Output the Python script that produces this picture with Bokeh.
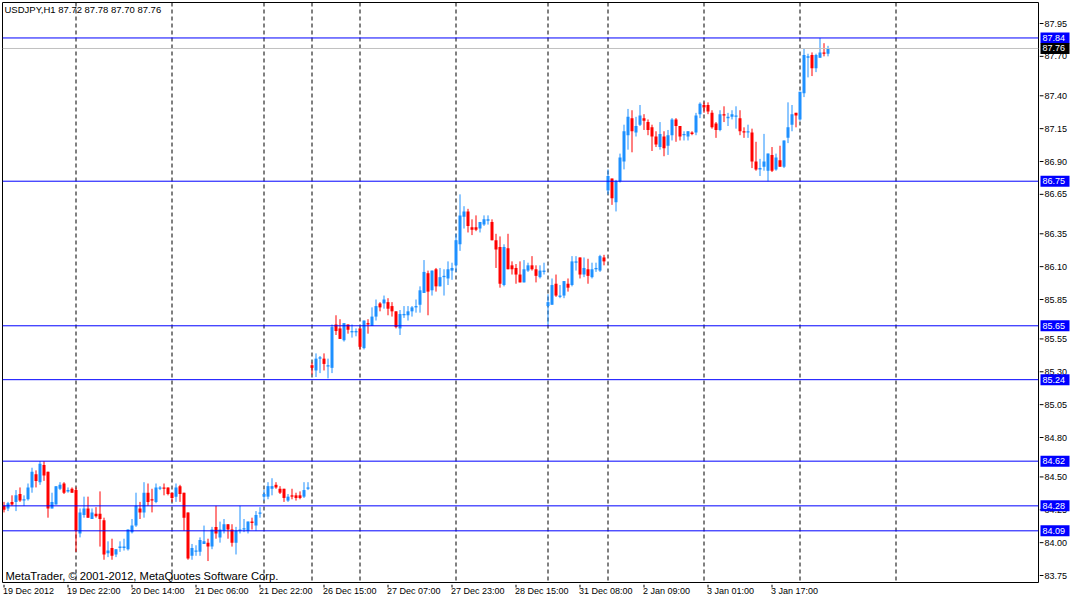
from bokeh.plotting import figure
from bokeh.layouts import row, column
from bokeh.models import Range1d, Span, Label, ColumnDataSource
from bokeh.core.properties import value
from bokeh.embed import file_html
from bokeh.resources import INLINE

# ---- data (USDJPY H1) ----
opens = [84.28, 84.26, 84.31, 84.31, 84.37, 84.32, 84.33, 84.42, 84.52, 84.46,
         84.59, 84.54, 84.26, 84.29, 84.41, 84.45, 84.39, 84.41, 84.40, 84.07,
         84.21, 84.26, 84.18, 84.22, 84.22, 84.17, 83.92, 83.96, 83.91, 83.96,
         83.96, 83.95, 84.08, 84.13, 84.26, 84.23, 84.38, 84.33, 84.31, 84.41,
         84.42, 84.42, 84.38, 84.35, 84.43, 84.38, 84.23, 83.90, 83.93, 83.93,
         83.99, 84.00, 83.97, 84.12, 84.04, 84.09, 84.14, 84.10, 84.00, 84.09,
         84.10, 84.09, 84.16, 84.13, 84.22, 84.35, 84.35, 84.41, 84.44, 84.41,
         84.41, 84.32, 84.36, 84.36, 84.36, 84.35, 84.41, 85.35, 85.31, 85.40,
         85.40, 85.34, 85.33, 85.66, 85.63, 85.54, 85.66, 85.60, 85.60, 85.63,
         85.48, 85.67, 85.65, 85.72, 85.82, 85.82, 85.83, 85.80, 85.76, 85.63,
         85.73, 85.73, 85.76, 85.79, 85.81, 85.90, 86.05, 85.92, 86.08, 85.95,
         86.02, 86.01, 86.07, 86.11, 86.27, 86.48, 86.52, 86.40, 86.40, 86.39,
         86.42, 86.45, 86.44, 86.30, 86.25, 85.96, 86.24, 86.11, 86.09, 86.04,
         85.98, 86.07, 86.11, 86.08, 86.02, 86.06, 85.80, 85.81, 85.97, 85.87,
         85.88, 85.97, 85.96, 86.13, 86.17, 86.04, 86.08, 86.02, 86.08, 86.07,
         86.17, 86.68, 86.77, 86.59, 86.75, 86.90, 87.10, 87.23, 87.12, 87.18,
         87.23, 87.20, 87.16, 87.09, 87.01, 87.09, 87.02, 87.10, 87.22, 87.17,
         87.10, 87.09, 87.12, 87.12, 87.26, 87.33, 87.33, 87.27, 87.19, 87.14,
         87.26, 87.23, 87.24, 87.24, 87.23, 87.13, 87.12, 87.12, 86.90, 86.84,
         86.86, 86.83, 86.95, 86.84, 86.91, 86.86, 87.08, 87.18, 87.27, 87.22,
         87.42, 87.69, 87.71, 87.61, 87.69, 87.73, 87.72]
highs = [84.31, 84.31, 84.36, 84.40, 84.42, 84.36, 84.45, 84.57, 84.55, 84.62,
         84.62, 84.54, 84.38, 84.43, 84.46, 84.46, 84.42, 84.42, 84.42, 84.26,
         84.35, 84.35, 84.26, 84.27, 84.39, 84.19, 84.01, 84.03, 83.95, 84.01,
         84.03, 84.10, 84.18, 84.38, 84.31, 84.46, 84.45, 84.41, 84.45, 84.43,
         84.45, 84.42, 84.38, 84.45, 84.44, 84.38, 84.23, 83.99, 83.98, 84.04,
         84.13, 84.03, 84.12, 84.28, 84.16, 84.18, 84.14, 84.14, 84.12, 84.28,
         84.18, 84.16, 84.19, 84.24, 84.27, 84.40, 84.46, 84.49, 84.46, 84.43,
         84.41, 84.37, 84.41, 84.38, 84.39, 84.46, 84.46, 85.37, 85.44, 85.42,
         85.44, 85.40, 85.66, 85.73, 85.70, 85.67, 85.66, 85.66, 85.63, 85.63,
         85.69, 85.70, 85.79, 85.85, 85.83, 85.88, 85.86, 85.83, 85.76, 85.77,
         85.80, 85.80, 85.80, 85.85, 85.95, 86.15, 86.07, 86.07, 86.09, 86.09,
         86.08, 86.14, 86.13, 86.35, 86.65, 86.56, 86.54, 86.46, 86.49, 86.44,
         86.49, 86.49, 86.46, 86.35, 86.33, 86.27, 86.35, 86.14, 86.12, 86.14,
         86.15, 86.13, 86.18, 86.11, 86.11, 86.13, 85.89, 86.01, 86.04, 85.96,
         85.99, 86.01, 86.18, 86.18, 86.17, 86.17, 86.16, 86.13, 86.13, 86.19,
         86.19, 86.84, 86.77, 86.76, 86.96, 87.18, 87.30, 87.29, 87.24, 87.33,
         87.26, 87.22, 87.18, 87.13, 87.20, 87.13, 87.14, 87.23, 87.23, 87.17,
         87.13, 87.13, 87.13, 87.27, 87.35, 87.35, 87.35, 87.29, 87.20, 87.29,
         87.32, 87.27, 87.29, 87.32, 87.29, 87.16, 87.18, 87.15, 87.05, 86.92,
         87.11, 86.96, 87.01, 86.96, 87.02, 87.06, 87.35, 87.33, 87.27, 87.43,
         87.76, 87.72, 87.73, 87.72, 87.84, 87.80, 87.78]
lows = [84.23, 84.24, 84.28, 84.24, 84.31, 84.28, 84.32, 84.38, 84.42, 84.44,
        84.47, 84.19, 84.26, 84.29, 84.40, 84.37, 84.38, 84.38, 83.93, 84.04,
        84.19, 84.19, 84.18, 84.19, 83.97, 83.87, 83.89, 83.87, 83.89, 83.93,
        83.94, 83.94, 84.07, 84.12, 84.18, 84.19, 84.28, 84.23, 84.30, 84.40,
        84.36, 84.36, 84.31, 84.31, 84.31, 84.09, 83.87, 83.87, 83.90, 83.90,
        83.99, 83.86, 83.95, 84.03, 84.00, 84.07, 84.03, 83.97, 83.91, 84.07,
        84.08, 84.07, 84.10, 84.09, 84.19, 84.32, 84.33, 84.36, 84.41, 84.37,
        84.31, 84.31, 84.33, 84.32, 84.33, 84.34, 84.40, 85.28, 85.26, 85.29,
        85.31, 85.25, 85.29, 85.58, 85.55, 85.53, 85.59, 85.56, 85.57, 85.47,
        85.47, 85.59, 85.65, 85.69, 85.76, 85.78, 85.73, 85.72, 85.63, 85.58,
        85.71, 85.69, 85.72, 85.75, 85.75, 85.90, 85.73, 85.88, 85.91, 85.95,
        85.88, 85.96, 86.00, 86.06, 86.22, 86.39, 86.36, 86.34, 86.37, 86.36,
        86.41, 86.42, 86.30, 86.09, 85.94, 85.95, 86.08, 86.04, 85.97, 85.98,
        85.98, 86.06, 86.07, 85.98, 86.01, 86.04, 85.66, 85.81, 85.87, 85.86,
        85.86, 85.91, 85.95, 86.07, 86.01, 86.02, 85.97, 86.01, 86.06, 86.06,
        86.11, 86.65, 86.57, 86.52, 86.74, 86.84, 86.99, 86.97, 87.09, 87.17,
        87.14, 87.10, 86.98, 87.01, 86.99, 86.94, 86.95, 87.06, 87.05, 87.06,
        87.06, 87.06, 87.10, 87.10, 87.23, 87.27, 87.26, 87.15, 87.08, 87.13,
        87.20, 87.17, 87.22, 87.15, 87.10, 87.08, 87.08, 86.85, 86.83, 86.79,
        86.83, 86.75, 86.82, 86.83, 86.86, 86.85, 87.04, 87.13, 87.16, 87.21,
        87.39, 87.54, 87.55, 87.58, 87.69, 87.70, 87.70]
closes = [84.25, 84.30, 84.29, 84.36, 84.32, 84.33, 84.42, 84.54, 84.47, 84.60,
          84.51, 84.26, 84.31, 84.43, 84.44, 84.38, 84.40, 84.38, 84.09, 84.23,
          84.26, 84.19, 84.23, 84.20, 84.18, 83.91, 83.94, 83.90, 83.95, 83.97,
          83.97, 84.10, 84.13, 84.28, 84.23, 84.38, 84.31, 84.32, 84.42, 84.42,
          84.41, 84.37, 84.34, 84.42, 84.37, 84.19, 83.88, 83.96, 83.94, 84.02,
          84.01, 83.97, 84.10, 84.07, 84.10, 84.14, 84.10, 84.00, 84.09, 84.10,
          84.11, 84.16, 84.15, 84.21, 84.23, 84.37, 84.43, 84.43, 84.42, 84.38,
          84.34, 84.35, 84.35, 84.34, 84.34, 84.40, 84.42, 85.33, 85.40, 85.41,
          85.36, 85.35, 85.64, 85.61, 85.55, 85.67, 85.62, 85.61, 85.61, 85.49,
          85.69, 85.66, 85.72, 85.80, 85.79, 85.85, 85.78, 85.76, 85.64, 85.74,
          85.74, 85.76, 85.79, 85.80, 85.92, 86.06, 85.91, 86.07, 85.95, 86.02,
          86.03, 86.08, 86.09, 86.30, 86.49, 86.52, 86.41, 86.38, 86.38, 86.44,
          86.46, 86.46, 86.30, 86.23, 85.97, 86.25, 86.08, 86.08, 86.04, 85.98,
          86.08, 86.11, 86.08, 86.03, 86.07, 86.07, 85.83, 85.96, 85.88, 85.88,
          85.99, 85.94, 86.14, 86.14, 86.04, 86.09, 86.03, 86.08, 86.09, 86.18,
          86.14, 86.79, 86.62, 86.75, 86.93, 87.13, 87.24, 87.13, 87.17, 87.25,
          87.21, 87.14, 87.09, 87.03, 87.11, 87.00, 87.10, 87.22, 87.17, 87.09,
          87.11, 87.13, 87.11, 87.25, 87.34, 87.31, 87.28, 87.16, 87.14, 87.26,
          87.25, 87.24, 87.26, 87.25, 87.13, 87.12, 87.13, 86.90, 86.84, 86.85,
          86.90, 86.96, 86.83, 86.93, 86.86, 87.06, 87.16, 87.26, 87.25, 87.43,
          87.71, 87.70, 87.61, 87.71, 87.73, 87.72, 87.76]

symbol = "USDJPY,H1"
time_label_bars = [0, 16, 32, 48, 64, 80, 96, 112, 128, 144, 160, 176, 192]
time_labels = ["19 Dec 2012", "19 Dec 22:00", "20 Dec 14:00", "21 Dec 06:00",
               "21 Dec 22:00", "26 Dec 15:00", "27 Dec 07:00", "27 Dec 23:00",
               "28 Dec 15:00", "31 Dec 08:00", "2 Jan 09:00", "3 Jan 01:00",
               "3 Jan 17:00"]
separator_bars = [18, 42, 65, 77, 89, 113, 136, 151, 175, 199, 223]
level_prices = [87.84, 86.75, 85.65, 85.24, 84.62, 84.28, 84.09]
price_ticks = [87.95, 87.70, 87.40, 87.15, 86.90, 86.65, 86.35, 86.10, 85.85,
               85.55, 85.30, 85.05, 84.80, 84.50, 84.25, 84.00, 83.75]
copyright_text = "MetaTrader, \u00a9 2001-2012, MetaQuotes Software Corp."

# ---- styling / layout ----
BULL = "#1E90FF"
BEAR = "#FF0000"
LEVEL = "#0000FF"
BID = "#C0C0C0"
FONT = "Liberation Sans"

BAR_PX = 4.0          # pixels per hourly bar
PRICE_PX = 131.43     # pixels per 1.00 JPY
X0 = (2 - 3.5) / BAR_PX
X1 = (1038 - 3.5) / BAR_PX
Y1 = 87.95 + 21 / PRICE_PX
Y0 = 87.95 - 559 / PRICE_PX

n = len(opens)
xs = list(range(n))
tops, bottoms, colors = [], [], []
for o, c in zip(opens, closes):
    t, b = max(o, c), min(o, c)
    if t - b < 0.008:
        m = (t + b) / 2
        t, b = m + 0.004, m - 0.004
    tops.append(t)
    bottoms.append(b)
    colors.append(BULL if c >= o else BEAR)

src = ColumnDataSource(dict(x=xs, high=highs, low=lows, top=tops,
                            bottom=bottoms, color=colors))


def bare(fig):
    fig.background_fill_color = "white"
    fig.border_fill_color = "white"
    fig.grid.visible = False
    return fig


# main chart
p = figure(width=1039, height=584, x_range=Range1d(X0, X1),
           y_range=Range1d(Y0, Y1), output_backend="svg",
           toolbar_location=None, x_axis_location=None, y_axis_location=None,
           min_border_left=2, min_border_right=1, min_border_top=2,
           min_border_bottom=2, title=None)
bare(p)
p.outline_line_color = "black"
p.outline_line_width = 1

for b in separator_bars:
    p.add_layout(Span(location=b, dimension="height", line_color="black",
                      line_width=1, line_dash="4 3", level="underlay"))

p.segment(x0="x", y0="low", x1="x", y1="high", line_color="color",
          line_width=1, source=src)
p.vbar(x="x", top="top", bottom="bottom", width=0.75, fill_color="color",
       line_color=None, source=src)

for lv in level_prices:
    p.add_layout(Span(location=lv, dimension="width", line_color=LEVEL,
                      line_width=1))
p.add_layout(Span(location=closes[-1], dimension="width", line_color=BID,
                  line_width=1))

title = f"{symbol}  {opens[-1]:.2f} {highs[-1]:.2f} {lows[-1]:.2f} {closes[-1]:.2f}"
p.add_layout(Label(x=X0, y=Y1, x_offset=2, y_offset=-1, text=title,
                   text_align="left", text_baseline="top", text_font=FONT,
                   text_font_size="9.5px", text_color="black"))
p.add_layout(Label(x=X0, y=Y0, x_offset=3, y_offset=7, text=copyright_text,
                   text_align="left", text_baseline="alphabetic",
                   text_font=FONT, text_font_size="11.2px",
                   text_color="black"))

# right price scale (pixel x units)
r = figure(width=36, height=584, x_range=Range1d(1039, 1075),
           y_range=p.y_range, output_backend="svg", toolbar_location=None,
           x_axis_location=None, y_axis_location=None, min_border_left=0,
           min_border_right=0, min_border_top=2, min_border_bottom=2,
           title=None)
bare(r)
r.outline_line_color = None
tick_src = ColumnDataSource(dict(y=price_ticks,
                                 label=[f"{t:.2f}" for t in price_ticks]))
r.segment(x0=1039, y0="y", x1=1043, y1="y", line_color="black",
          line_width=1, source=tick_src)
r.text(x=1044, y="y", text="label", source=tick_src, text_align="left",
       text_baseline="middle", text_font=value(FONT),
       text_font_size=value("9px"), text_color="black")

box_prices = level_prices + [closes[-1]]
box_colors = [LEVEL] * len(level_prices) + ["black"]
box_src = ColumnDataSource(dict(y=box_prices, color=box_colors,
                                label=[f"{v:.2f}" for v in box_prices]))
r.rect(x=1054.5, y="y", width=29, height=11, height_units="screen",
       fill_color="color", line_color=None, source=box_src)
r.text(x=1042, y="y", text="label", source=box_src, text_align="left",
       text_baseline="middle", text_font=value(FONT),
       text_font_size=value("9px"), text_color="white")

# bottom time scale
bt = figure(width=1039, height=15, x_range=p.x_range, y_range=Range1d(0, 15),
            output_backend="svg", toolbar_location=None,
            x_axis_location=None, y_axis_location=None, min_border_left=2,
            min_border_right=1, min_border_top=0, min_border_bottom=0,
            title=None)
bare(bt)
bt.outline_line_color = None
time_src = ColumnDataSource(dict(x=time_label_bars, label=time_labels))
bt.segment(x0="x", y0=15, x1="x", y1=12, line_color="black", line_width=1,
           source=time_src)
bt.text(x="x", y=13.5, text="label", source=time_src, x_offset=-1,
        text_align="left", text_baseline="top", text_font=value(FONT),
        text_font_size=value("9px"), text_color="black")

layout = column(row(p, r), bt)
open("out.html", "w").write(file_html(layout, INLINE))
